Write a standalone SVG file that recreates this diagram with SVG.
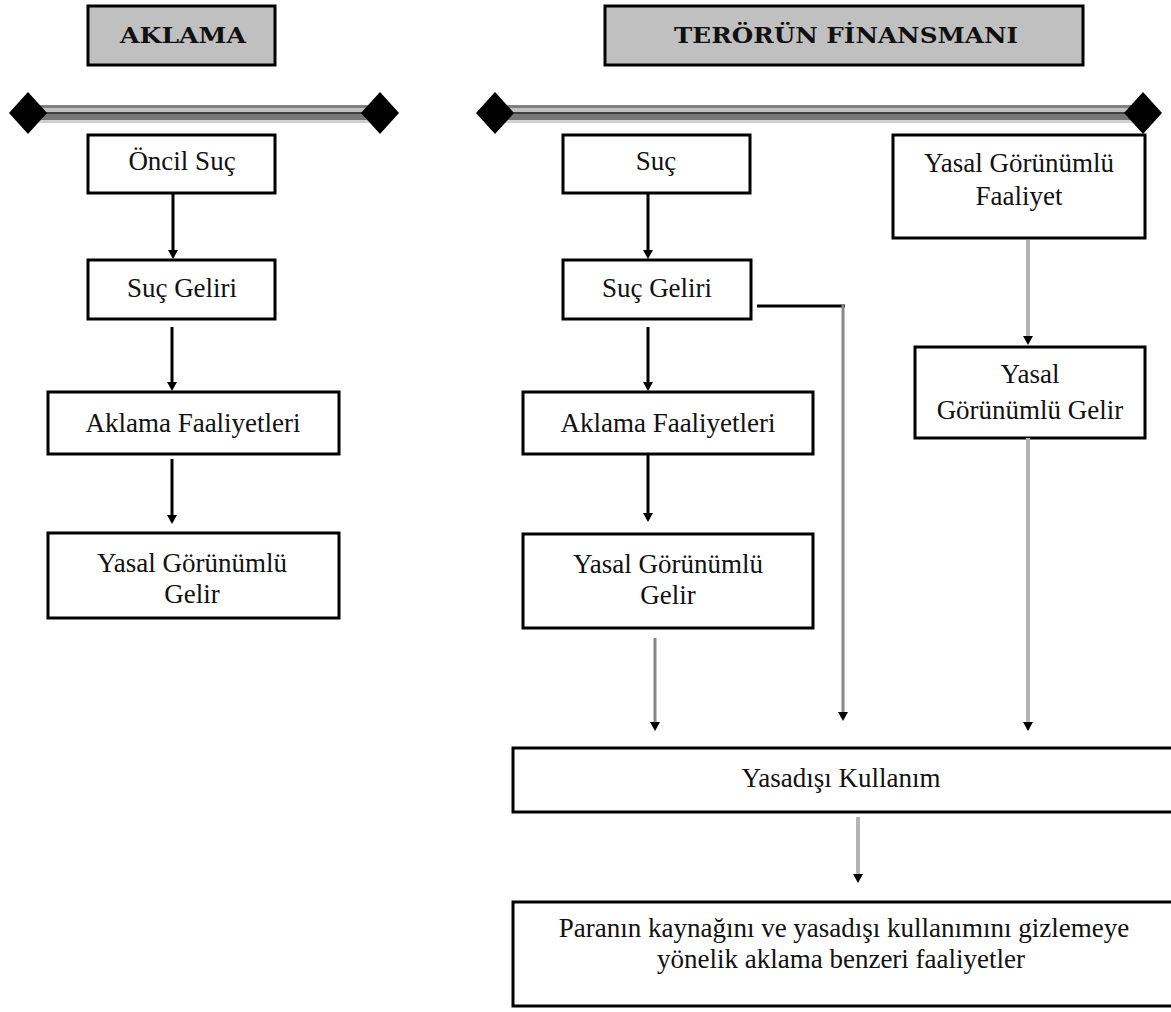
<svg xmlns="http://www.w3.org/2000/svg" width="1171" height="1012" viewBox="0 0 1171 1012">
<style>
.box{fill:#fff;stroke:#000;stroke-width:3}
.hdr{fill:#c0c0c0;stroke:#000;stroke-width:3}
.t{font-family:"Liberation Serif","Times New Roman",serif;font-size:27px;fill:#111;text-anchor:middle}
.h{font-family:"DejaVu Serif","Liberation Serif",serif;font-weight:bold;font-size:22px;fill:#111;text-anchor:middle}
.blk{stroke:#000;stroke-width:3;fill:none}
.g1{stroke:#888;stroke-width:3;fill:none}
.g2{stroke:#b4b4b4;stroke-width:4;fill:none}
</style>
<defs>
<marker id="ah" markerUnits="userSpaceOnUse" markerWidth="12" markerHeight="12" refX="0" refY="5.5" orient="auto">
<path d="M0,0.5 L9,5.5 L0,10.5 z" fill="#000"/>
</marker>
<g id="bar">
<rect x="0" y="105" width="100" height="3" fill="#808080"/>
</g>
</defs>

<!-- bars -->
<g id="bar-left">
<rect x="30" y="105" width="350" height="3" fill="#808080"/>
<rect x="30" y="108" width="350" height="4" fill="#c0c0c0"/>
<rect x="30" y="112" width="350" height="2" fill="#404040"/>
<rect x="30" y="114" width="350" height="6" fill="#777"/>
<rect x="30" y="120" width="350" height="3" fill="#d0d0d0"/>
<polygon points="28,92 47,113 28,134 9,113" fill="#000"/>
<polygon points="380,92 399,113 380,134 361,113" fill="#000"/>
</g>
<g id="bar-right">
<rect x="495" y="105" width="648" height="3" fill="#808080"/>
<rect x="495" y="108" width="648" height="4" fill="#c0c0c0"/>
<rect x="495" y="112" width="648" height="2" fill="#404040"/>
<rect x="495" y="114" width="648" height="6" fill="#777"/>
<rect x="495" y="120" width="648" height="3" fill="#d0d0d0"/>
<polygon points="495,92 514,113 495,134 476,113" fill="#000"/>
<polygon points="1143,92 1162,113 1143,134 1124,113" fill="#000"/>
</g>

<g id="h-aklama"><rect class="hdr" x="88" y="6" width="187" height="59"/><text class="h" x="183" y="43" textLength="126" lengthAdjust="spacingAndGlyphs">AKLAMA</text></g>
<g id="h-teror"><rect class="hdr" x="605" y="6" width="478" height="59"/><text class="h" x="846" y="43" textLength="344" lengthAdjust="spacingAndGlyphs">TERÖRÜN FİNANSMANI</text></g>

<!-- left column -->
<g id="l-oncil"><rect class="box" x="88" y="135" width="187" height="58"/><text class="t" x="182" y="170">Öncil Suç</text></g>
<g id="l-sucgeliri"><rect class="box" x="88" y="260" width="187" height="59"/><text class="t" x="182" y="297">Suç Geliri</text></g>
<g id="l-aklama"><rect class="box" x="48" y="392" width="291" height="62"/><text class="t" x="193" y="432">Aklama Faaliyetleri</text></g>
<g id="l-yasal"><rect class="box" x="48" y="533" width="291" height="85"/><text class="t" x="192" y="572">Yasal Görünümlü</text><text class="t" x="192" y="603">Gelir</text></g>

<!-- middle column -->
<g id="m-suc"><rect class="box" x="563" y="135" width="187" height="58"/><text class="t" x="656" y="170">Suç</text></g>
<g id="m-sucgeliri"><rect class="box" x="563" y="260" width="188" height="59"/><text class="t" x="657" y="297">Suç Geliri</text></g>
<g id="m-aklama"><rect class="box" x="523" y="392" width="290" height="62"/><text class="t" x="668" y="432">Aklama Faaliyetleri</text></g>
<g id="m-yasal"><rect class="box" x="523" y="534" width="290" height="94"/><text class="t" x="668" y="573">Yasal Görünümlü</text><text class="t" x="668" y="604">Gelir</text></g>

<!-- right column -->
<g id="r-faaliyet"><rect class="box" x="893" y="135" width="252" height="103"/><text class="t" x="1019" y="172">Yasal Görünümlü</text><text class="t" x="1019" y="205">Faaliyet</text></g>
<g id="r-yasal"><rect class="box" x="915" y="347" width="230" height="91"/><text class="t" x="1030" y="383">Yasal</text><text class="t" x="1030" y="419">Görünümlü Gelir</text></g>

<!-- bottom -->
<g id="b-yasadisi"><rect class="box" x="513" y="748" width="700" height="64"/><text class="t" x="841" y="787">Yasadışı Kullanım</text></g>
<g id="b-final"><rect class="box" x="513" y="902" width="700" height="104"/><text class="t" x="844" y="937">Paranın kaynağını ve yasadışı kullanımını gizlemeye</text><text class="t" x="841" y="968">yönelik aklama benzeri faaliyetler</text></g>

<g id="connectors">
<line class="blk" x1="173" y1="193" x2="173" y2="250" marker-end="url(#ah)"/>
<line class="blk" x1="172" y1="327" x2="172" y2="382" marker-end="url(#ah)"/>
<line class="blk" x1="172" y1="459" x2="172" y2="515" marker-end="url(#ah)"/>
<line class="blk" x1="648" y1="193" x2="648" y2="250" marker-end="url(#ah)"/>
<line class="blk" x1="648" y1="327" x2="648" y2="382" marker-end="url(#ah)"/>
<line class="blk" x1="648" y1="454" x2="648" y2="513" marker-end="url(#ah)"/>
<line class="blk" x1="757" y1="306" x2="845" y2="306"/>
<line class="g1" x1="843" y1="305" x2="843" y2="712" marker-end="url(#ah)"/>
<line class="g1" x1="655" y1="638" x2="655" y2="722" marker-end="url(#ah)"/>
<line class="g2" x1="1028" y1="240" x2="1028" y2="336" marker-end="url(#ah)"/>
<line class="g2" x1="1028" y1="438" x2="1028" y2="722" marker-end="url(#ah)"/>
<line class="g2" x1="858" y1="817" x2="858" y2="874" marker-end="url(#ah)"/>
</g>
</svg>
